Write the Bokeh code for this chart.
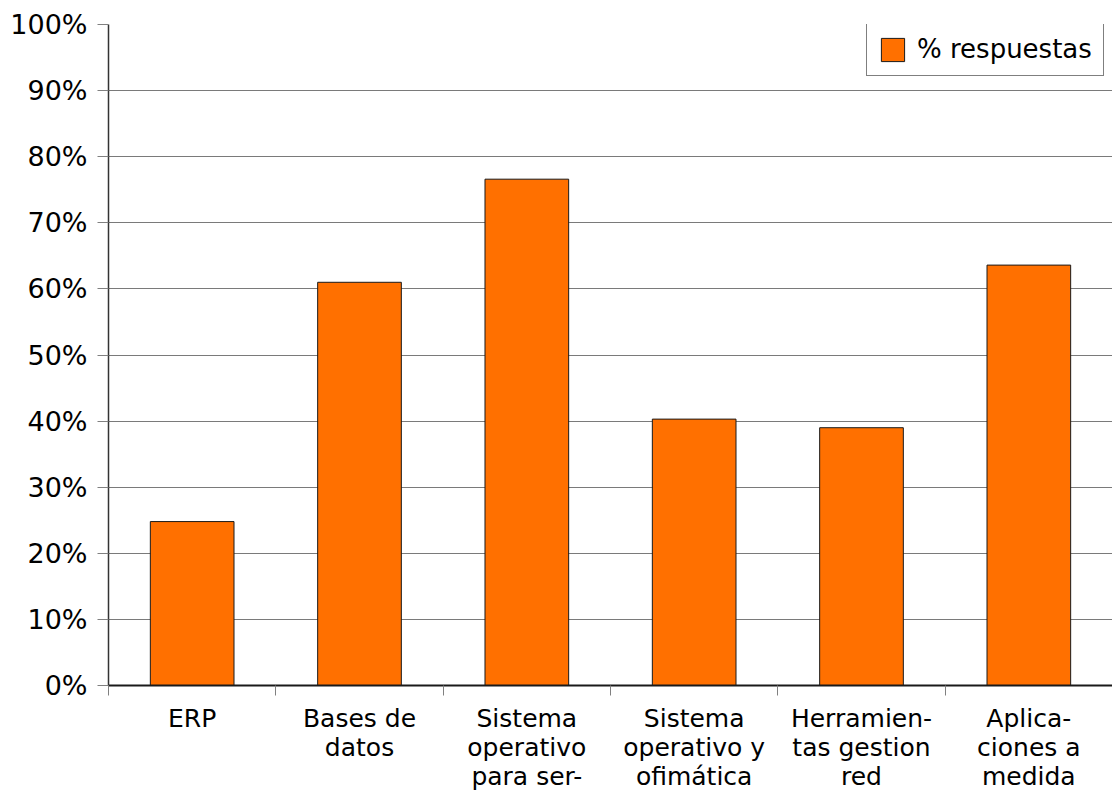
import numpy as np
from bokeh.plotting import figure
from bokeh.models import FixedTicker, PrintfTickFormatter, Range1d, Legend, LegendItem
from bokeh.embed import file_html
from bokeh.resources import INLINE

categories = ["ERP", "Bases de\ndatos", "Sistema\noperativo\npara ser-",
              "Sistema\noperativo y\nofimática", "Herramien-\ntas gestion\nred",
              "Aplica-\nciones a\nmedida"]
values = [24.8, 61.0, 76.6, 40.3, 39.0, 63.6]
series_name = "% respuestas"
y_ticks = list(range(0, 101, 10))

n = len(categories)
centers = np.arange(n) + 0.5
bounds = list(np.arange(n + 1).astype(float))

FONT = "DejaVu Sans"

p = figure(width=1112, height=793, output_backend="svg", toolbar_location=None,
           x_range=Range1d(0, n), y_range=Range1d(0, 100),
           min_border_left=108, min_border_top=24, min_border_bottom=107, min_border_right=0)
p.outline_line_color = None
p.background_fill_color = "white"

r = p.vbar(x=centers, top=values, width=0.5, fill_color="#ff7000",
           line_color="#1a1a1a", line_width=1)

# x axis
xa = p.xaxis[0]
xa.ticker = FixedTicker(ticks=list(centers), minor_ticks=bounds)
xa.major_label_overrides = {float(c): lab for c, lab in zip(centers, categories)}
xa.major_tick_line_color = None
xa.major_tick_out = 0
xa.major_tick_in = 0
xa.minor_tick_out = 10
xa.minor_tick_in = 0
xa.minor_tick_line_color = "#808080"
xa.minor_tick_line_width = 1
xa.axis_line_color = "#1a1a1a"
xa.axis_line_width = 2
xa.major_label_text_font = FONT
xa.major_label_text_font_size = "25px"
xa.major_label_text_line_height = 1.0
xa.major_label_text_color = "black"
xa.major_label_standoff = 8

# y axis
ya = p.yaxis[0]
ya.ticker = FixedTicker(ticks=y_ticks, minor_ticks=[])
ya.formatter = PrintfTickFormatter(format="%d%%")
ya.major_tick_out = 11
ya.major_tick_in = 0
ya.major_tick_line_color = "#808080"
ya.axis_line_color = "#333333"
ya.axis_line_width = 1.5
ya.major_label_text_font = FONT
ya.major_label_text_font_size = "27px"
ya.major_label_text_color = "black"
ya.major_label_standoff = 10

p.xgrid.grid_line_color = None
p.ygrid.ticker = FixedTicker(ticks=y_ticks)
p.ygrid.grid_line_color = "#7a7a7a"
p.ygrid.grid_line_width = 1

legend = Legend(items=[LegendItem(label=series_name, renderers=[r])],
                location=(758, 609), margin=0, padding=11, spacing=0,
                label_text_font=FONT, label_text_font_size="26px",
                label_text_color="black",
                glyph_width=29, glyph_height=29, label_standoff=10,
                border_line_color="black", border_line_width=1)
p.add_layout(legend)

open("out.html", "w").write(file_html(p, INLINE))
